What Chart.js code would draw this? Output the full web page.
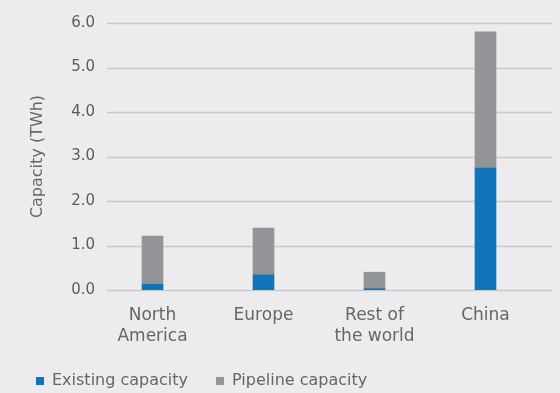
<!DOCTYPE html>
<html>
<head>
<meta charset="utf-8">
<script src="https://cdn.jsdelivr.net/npm/chart.js@4/dist/chart.umd.min.js"></script>
<style>
    html, body { margin: 0; padding: 0; background: #ececee; }
    #wrap { width: 560px; height: 393px; }
</style>
</head>
<body>
<div id="wrap"><canvas id="chart" width="560" height="393"></canvas></div>
<script>
const regions = [['North', 'America'], 'Europe', ['Rest of', 'the world'], 'China'];
const existing = [0.13, 0.34, 0.03, 2.74];
const pipeline = [1.08, 1.05, 0.37, 3.06];
const yTicks = [0, 1, 2, 3, 4, 5, 6];

const fontFamily = "'DejaVu Sans', sans-serif";

// grid lines run a bit past the category band, like the original
const gridLines = {
    id: 'gridLines',
    beforeDatasetsDraw(chart) {
        const ctx = chart.ctx;
        const y = chart.scales.y;
        const area = chart.chartArea;
        ctx.save();
        ctx.strokeStyle = '#c9c9cb';
        ctx.lineWidth = 1.5;
        y.ticks.forEach(t => {
            const py = Math.round(y.getPixelForValue(t.value)) + 0.5;
            ctx.beginPath();
            ctx.moveTo(area.left + 10, py);
            ctx.lineTo(area.right + 11, py);
            ctx.stroke();
        });
        ctx.restore();
    }
};

new Chart(document.getElementById('chart').getContext('2d'), {
    type: 'bar',
    data: {
        labels: regions,
        datasets: [{
            label: 'Existing capacity',
            data: existing,
            backgroundColor: '#1273bd',
            barThickness: 21
        }, {
            label: 'Pipeline capacity',
            data: pipeline,
            backgroundColor: '#939497',
            barThickness: 21
        }]
    },
    options: {
        responsive: false,
        animation: false,
        layout: { padding: { top: 23, right: 19, bottom: -6, left: 8 } },
        plugins: {
            tooltip: { enabled: false },
            legend: {
                position: 'bottom',
                align: 'start',
                labels: {
                    boxWidth: 8,
                    boxHeight: 8,
                    padding: 28,
                    color: '#666',
                    font: { family: fontFamily, size: 16 }
                }
            }
        },
        scales: {
            x: {
                stacked: true,
                grid: { display: false, drawTicks: false },
                border: { display: false },
                ticks: {
                    color: '#666',
                    padding: 16,
                    font: { family: fontFamily, size: 17, lineHeight: 1.18 }
                },
                afterFit(scale) { scale.height = 55; }
            },
            y: {
                stacked: true,
                min: 0,
                max: 6,
                afterBuildTicks(scale) { scale.ticks = yTicks.map(v => ({ value: v })); },
                grid: { display: false, drawTicks: false },
                border: { display: false },
                ticks: {
                    color: '#5c5c5c',
                    padding: 2,
                    font: { family: fontFamily, size: 15 },
                    callback: v => v.toFixed(1)
                },
                title: {
                    display: true,
                    text: 'Capacity (TWh)',
                    color: '#666',
                    padding: { top: 20, bottom: 0 },
                    font: { family: fontFamily, size: 16 }
                },
                afterFit(scale) { scale.width = 89; }
            }
        }
    },
    plugins: [gridLines]
});
</script>
</body>
</html>
